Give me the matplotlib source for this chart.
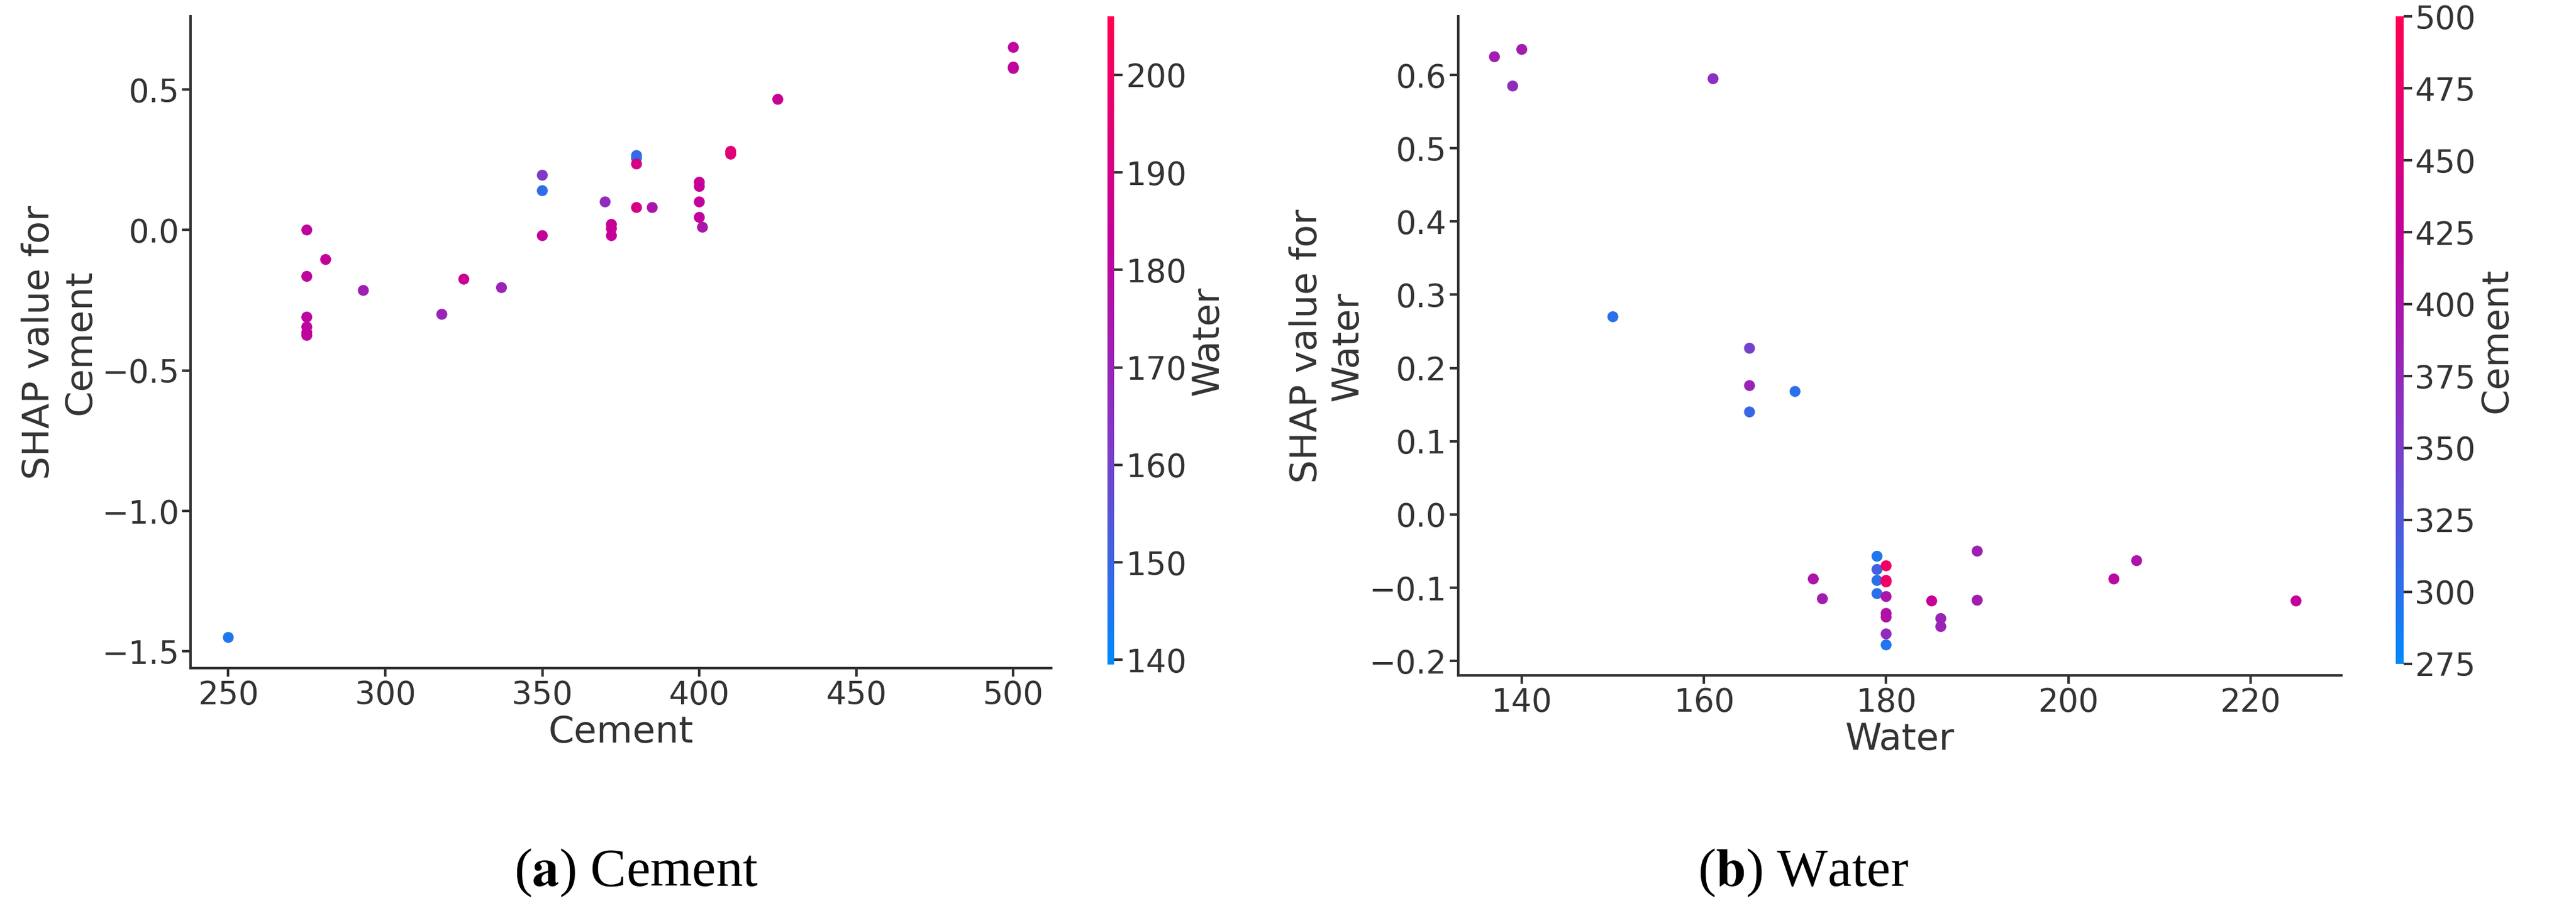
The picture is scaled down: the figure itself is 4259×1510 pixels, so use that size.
import numpy as np
import matplotlib
matplotlib.use('Agg')
import matplotlib.pyplot as plt
from matplotlib.colors import LinearSegmentedColormap

# (a) Cement dependence, coloured by Water
cement_x = [250, 275, 275, 275, 275, 275, 275, 281, 293, 318, 325, 337,
            350, 350, 350, 370, 372, 372, 372, 380, 380, 380, 380, 385,
            400, 400, 400, 400, 401, 410, 410, 425, 500, 500, 500]
cement_shap = [-1.45, 0.0, -0.165, -0.31, -0.345, -0.365, -0.375, -0.105, -0.215, -0.30, -0.175, -0.205,
               0.195, 0.14, -0.02, 0.10, 0.02, 0.005, -0.02, 0.265, 0.255, 0.235, 0.08, 0.08,
               0.17, 0.155, 0.10, 0.045, 0.01, 0.28, 0.27, 0.465, 0.65, 0.58, 0.575]
cement_water = [145, 182, 182, 182, 182, 182, 182, 184, 172, 170, 186, 171,
                162, 148, 184, 168, 185, 185, 184, 150, 148, 190, 190, 176,
                185, 185, 183, 183, 175, 195, 195, 185, 182, 182, 182]

# (b) Water dependence, coloured by Cement
water_x = [137, 139, 140, 161, 150, 165, 165, 165, 170,
           179, 179, 179, 179, 180, 180, 180, 180, 180, 180, 180, 180,
           172, 173, 185, 186, 186, 190, 190, 205, 207.5, 225]
water_shap = [0.625, 0.585, 0.635, 0.595, 0.27, 0.227, 0.176, 0.14, 0.168,
              -0.057, -0.075, -0.09, -0.108, -0.07, -0.09, -0.092, -0.112, -0.135, -0.14, -0.163, -0.178,
              -0.088, -0.115, -0.118, -0.142, -0.153, -0.05, -0.117, -0.088, -0.063, -0.118]
water_cement = [390, 370, 390, 365, 300, 345, 380, 310, 300,
                295, 315, 300, 300, 480, 470, 480, 400, 405, 405, 370, 295,
                400, 390, 430, 380, 380, 385, 390, 415, 400, 425]

cmap = LinearSegmentedColormap.from_list('red_blue', ['#008afb', '#7d3cc8', '#c4009a', '#ff0052'])
plt.rcParams['font.family'] = 'DejaVu Sans'
plt.rcParams['mathtext.fontset'] = 'stix'
grey = '#333333'

fig = plt.figure(figsize=(42.59, 15.10), dpi=100)


def panel(rect, crect, x, y, c, vmin, vmax, xlabel, ylabel, clabel, xticks, yticks, cticks):
    ax = fig.add_axes(rect)
    sc = ax.scatter(x, y, c=c, cmap=cmap, vmin=vmin, vmax=vmax, s=170, linewidths=0)
    for s in ['top', 'right']:
        ax.spines[s].set_visible(False)
    for s in ['left', 'bottom']:
        ax.spines[s].set_color(grey)
        ax.spines[s].set_linewidth(3)
    ax.set_xticks(xticks)
    ax.set_yticks(yticks)
    ax.tick_params(labelsize=38, colors=grey, width=3, length=10)
    ax.set_xlabel(xlabel, fontsize=44, color=grey)
    ax.set_ylabel(ylabel, fontsize=44, color=grey)
    cax = fig.add_axes(crect)
    cb = fig.colorbar(sc, cax=cax)
    cb.outline.set_visible(False)
    cb.set_ticks(cticks)
    cb.ax.tick_params(labelsize=38, colors=grey, width=3, length=10)
    cb.set_label(clabel, fontsize=44, color=grey)
    return ax


ax1 = panel([0.074, 0.268, 0.334, 0.714], [0.430, 0.272, 0.0026, 0.710],
            cement_x, cement_shap, cement_water, 139.5, 206,
            'Cement', 'SHAP value for\nCement', 'Water',
            [250, 300, 350, 400, 450, 500], [-1.5, -1.0, -0.5, 0.0, 0.5],
            [140, 150, 160, 170, 180, 190, 200])
ax1.set_xlim(238, 512)
ax1.set_ylim(-1.56, 0.76)

ax2 = panel([0.566, 0.260, 0.343, 0.722], [0.930, 0.273, 0.0030, 0.709],
            water_x, water_shap, water_cement, 275, 500,
            'Water', 'SHAP value for\nWater', 'Cement',
            [140, 160, 180, 200, 220], [-0.2, -0.1, 0.0, 0.1, 0.2, 0.3, 0.4, 0.5, 0.6],
            [275, 300, 325, 350, 375, 400, 425, 450, 475, 500])
ax2.set_xlim(133, 230)
ax2.set_ylim(-0.22, 0.68)

fig.text(0.247, 0.030, r'($\mathbf{a}$) Cement', fontsize=64, family='Liberation Serif', ha='center')
fig.text(0.700, 0.030, r'($\mathbf{b}$) Water', fontsize=64, family='Liberation Serif', ha='center')

fig.savefig('out.png', dpi=100)
